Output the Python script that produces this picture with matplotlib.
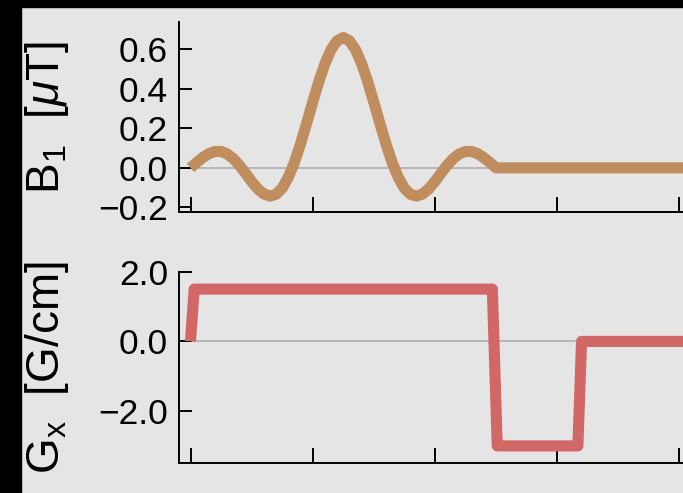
import matplotlib
matplotlib.use("Agg")
import matplotlib.pyplot as plt
from matplotlib.patches import Rectangle

# ── Data ────────────────────────────────────────────────────────────────────
# RF pulse (sinc), time in ms
b1_time = [0.00, 0.05, 0.10, 0.15, 0.20, 0.25, 0.30, 0.35, 0.40, 0.45,
           0.50, 0.55, 0.60, 0.65, 0.70, 0.75, 0.80, 0.85, 0.90, 0.95,
           1.00, 1.05, 1.10, 1.15, 1.20, 1.25, 1.30, 1.35, 1.40, 1.45,
           1.50, 1.55, 1.60, 1.65, 1.70, 1.75, 1.80, 1.85, 1.90, 1.95,
           2.00, 2.05, 2.10, 2.15, 2.20, 2.25, 2.30, 2.35, 2.40, 2.45,
           2.50, 4.30]
b1_uT = [0.000, 0.027, 0.052, 0.072, 0.083, 0.083, 0.071, 0.047, 0.013, -0.027,
         -0.069, -0.106, -0.132, -0.143, -0.134, -0.103, -0.048, 0.027, 0.121, 0.225,
         0.333, 0.437, 0.528, 0.599, 0.644, 0.660, 0.644, 0.599, 0.528, 0.437,
         0.333, 0.225, 0.121, 0.027, -0.048, -0.103, -0.134, -0.143, -0.132, -0.106,
         -0.069, -0.027, 0.013, 0.047, 0.071, 0.083, 0.083, 0.072, 0.052, 0.027,
         0.000, 0.000]

# slice-select gradient + refocusing lobe
gx_time = [0.00, 0.03, 2.47, 2.51, 3.17, 3.20, 4.30]
gx_Gcm = [0.0, 1.5, 1.5, -3.0, -3.0, 0.0, 0.0]

x_ticks = [0, 1, 2, 3, 4]
b1_ticks = [-0.2, 0.0, 0.2, 0.4, 0.6]
gx_ticks = [-2.0, 0.0, 2.0]

# ── Style ───────────────────────────────────────────────────────────────────
BG = "#e5e5e5"
B1_COLOR = "#bf8d5e"
GX_COLOR = "#d16866"
ZERO_COLOR = "#b0b0b0"

plt.rcParams.update({
    "font.family": ["Liberation Sans", "DejaVu Sans"],
    "mathtext.fontset": "custom",
    "mathtext.rm": "Liberation Sans",
    "mathtext.it": "Liberation Sans:italic",
    "axes.unicode_minus": True,
})


def fmt_tick(val, _=None):
    return f"{val:.1f}".replace("-", "\u2212")


fig = plt.figure(figsize=(6.83, 4.93), dpi=100, facecolor=BG)
# black border strips seen on the left and top of the picture
fig.patches.append(Rectangle((0, 0), 21 / 683, 1, transform=fig.transFigure,
                             color="black", zorder=0))
fig.patches.append(Rectangle((0, 1 - 7 / 493), 1, 7 / 493, transform=fig.transFigure,
                             color="black", zorder=0))

ax1 = fig.add_axes([0.2621, 0.5694, 0.7504, 0.3860])
ax2 = fig.add_axes([0.2621, 0.0602, 0.7504, 0.3887])

for ax in (ax1, ax2):
    ax.set_facecolor(BG)
    ax.patch.set_alpha(0)
    for side in ("top", "right"):
        ax.spines[side].set_visible(False)
    for side in ("left", "bottom"):
        ax.spines[side].set_linewidth(1.4)
    ax.set_xlim(-0.094, 4.1)
    ax.set_xticks(x_ticks)
    ax.tick_params(axis="x", direction="in", length=11, width=1.4, labelbottom=False)
    ax.tick_params(axis="y", direction="in", length=9.5, width=1.4, pad=8, labelsize=25.5)
    ax.yaxis.set_major_formatter(plt.FuncFormatter(fmt_tick))
    ax.axhline(0, color=ZERO_COLOR, lw=1.2, zorder=1)

ax1.plot(b1_time, b1_uT, color=B1_COLOR, lw=8, solid_capstyle="butt",
         solid_joinstyle="round", zorder=2)
ax1.set_ylim(-0.225, 0.739)
ax1.set_yticks(b1_ticks)
ax1.set_ylabel(r"B$_\mathregular{1}$  [$\mu$T]", fontsize=33)

ax2.plot(gx_time, gx_Gcm, color=GX_COLOR, lw=8, solid_capstyle="butt",
         solid_joinstyle="round", zorder=2)
ax2.set_ylim(-3.5, 2.0)
ax2.set_yticks(gx_ticks)
ax2.set_ylabel(r"G$_\mathregular{x}$  [G/cm]", fontsize=33)

ax1.yaxis.set_label_coords(-0.211, 0.5)
ax2.yaxis.set_label_coords(-0.211, 0.5)

fig.savefig("out.png", dpi=100, facecolor=BG)
